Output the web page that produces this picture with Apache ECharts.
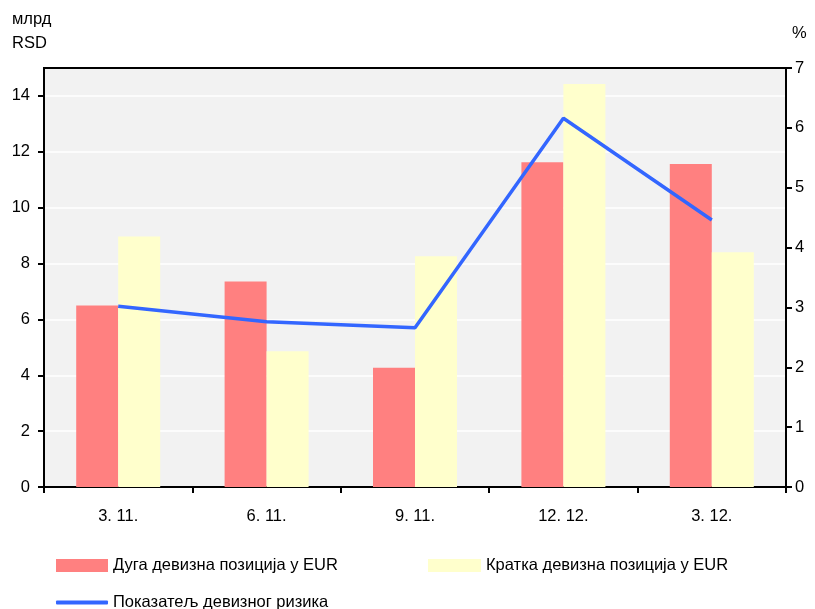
<!DOCTYPE html>
<html>
<head>
<meta charset="utf-8">
<script src="https://cdn.jsdelivr.net/npm/echarts@6/dist/echarts.min.js"></script>
<style>
  html, body { margin: 0; padding: 0; background: #fff; }
  #chart { width: 815px; height: 609px; }
</style>
</head>
<body>
<div id="chart"></div>
<script>
const categories = ["3. 11.", "6. 11.", "9. 11.", "12. 12.", "3. 12."];
const longPosition = [6.5, 7.36, 4.27, 11.63, 11.56];
const shortPosition = [8.97, 4.86, 8.26, 14.43, 8.4];
const riskIndicator = [3.02, 2.76, 2.66, 6.16, 4.46];

const FONT = "'Liberation Sans', Arial, sans-serif";
const labelStyle = { color: "#000", fontSize: 16.5, fontFamily: FONT };

const legendBase = (left, top, name, width, height) => ({
  left, top,
  padding: 0,
  data: [name],
  itemWidth: width,
  itemHeight: height,
  icon: "rect",
  textStyle: labelStyle,
  selectedMode: false,
});

const chart = echarts.init(document.getElementById("chart"), null, { renderer: "canvas" });

chart.setOption({
  animation: false,
  backgroundColor: "#fff",
  grid: {
    show: true,
    left: 44, right: 29, top: 68, bottom: 122,
    backgroundColor: "#f2f2f2",
    borderColor: "#000",
    borderWidth: 2,
  },
  legend: [
    legendBase(56, 557, "Дуга девизна позиција у EUR", 52, 13),
    legendBase(428, 557, "Кратка девизна позиција у EUR", 53, 13),
    { ...legendBase(56, 594, "Показатељ девизног ризика", 52, 4), icon: "roundRect" },
  ],
  graphic: [
    { type: "text", left: 12, top: 11, style: { text: "млрд", font: "16.5px " + FONT, fill: "#000" } },
    { type: "text", left: 12, top: 35, style: { text: "RSD", font: "16.5px " + FONT, fill: "#000" } },
    { type: "text", left: 792, top: 25, style: { text: "%", font: "16.5px " + FONT, fill: "#000" } },
  ],
  xAxis: [
    {
      type: "category",
      data: categories,
      axisLine: { lineStyle: { color: "#000", width: 2 } },
      axisTick: { show: true, length: 6, lineStyle: { color: "#000", width: 2 } },
      axisLabel: { ...labelStyle, margin: 21 },
      splitLine: { show: false },
    },
    {
      type: "category",
      data: categories,
      position: "top",
      axisLine: { show: true, lineStyle: { color: "#000", width: 2 } },
      axisTick: { show: false },
      axisLabel: { show: false },
      splitLine: { show: false },
    },
  ],
  yAxis: [
    {
      type: "value",
      min: 0, max: 15, interval: 2,
      position: "left",
      axisLine: { show: true, lineStyle: { color: "#000", width: 2 } },
      axisTick: { show: true, length: 6, lineStyle: { color: "#000", width: 2 } },
      axisLabel: { ...labelStyle, margin: 14, showMaxLabel: false,
        formatter: (v) => (v > 14 ? "" : String(v)) },
      splitLine: { show: true, showMaxLine: false, lineStyle: { color: "#ffffff", width: 1.5 } },
    },
    {
      type: "value",
      min: 0, max: 7, interval: 1,
      position: "right",
      axisLine: { show: true, lineStyle: { color: "#000", width: 2 } },
      axisTick: { show: true, length: 6, lineStyle: { color: "#000", width: 2 } },
      axisLabel: { ...labelStyle, margin: 9 },
      splitLine: { show: false },
    },
  ],
  series: [
    {
      name: "Дуга девизна позиција у EUR",
      type: "bar",
      data: longPosition,
      barWidth: 42,
      barGap: "0%",
      itemStyle: { color: "#ff8080" },
    },
    {
      name: "Кратка девизна позиција у EUR",
      type: "bar",
      data: shortPosition,
      barWidth: 42,
      barGap: "0%",
      itemStyle: { color: "#ffffcc" },
    },
    {
      name: "Показатељ девизног ризика",
      type: "line",
      yAxisIndex: 1,
      data: riskIndicator,
      smooth: false,
      symbol: "none",
      lineStyle: { color: "#3366ff", width: 3.5 },
      itemStyle: { color: "#3366ff" },
      z: 5,
    },
  ],
});
</script>
</body>
</html>
